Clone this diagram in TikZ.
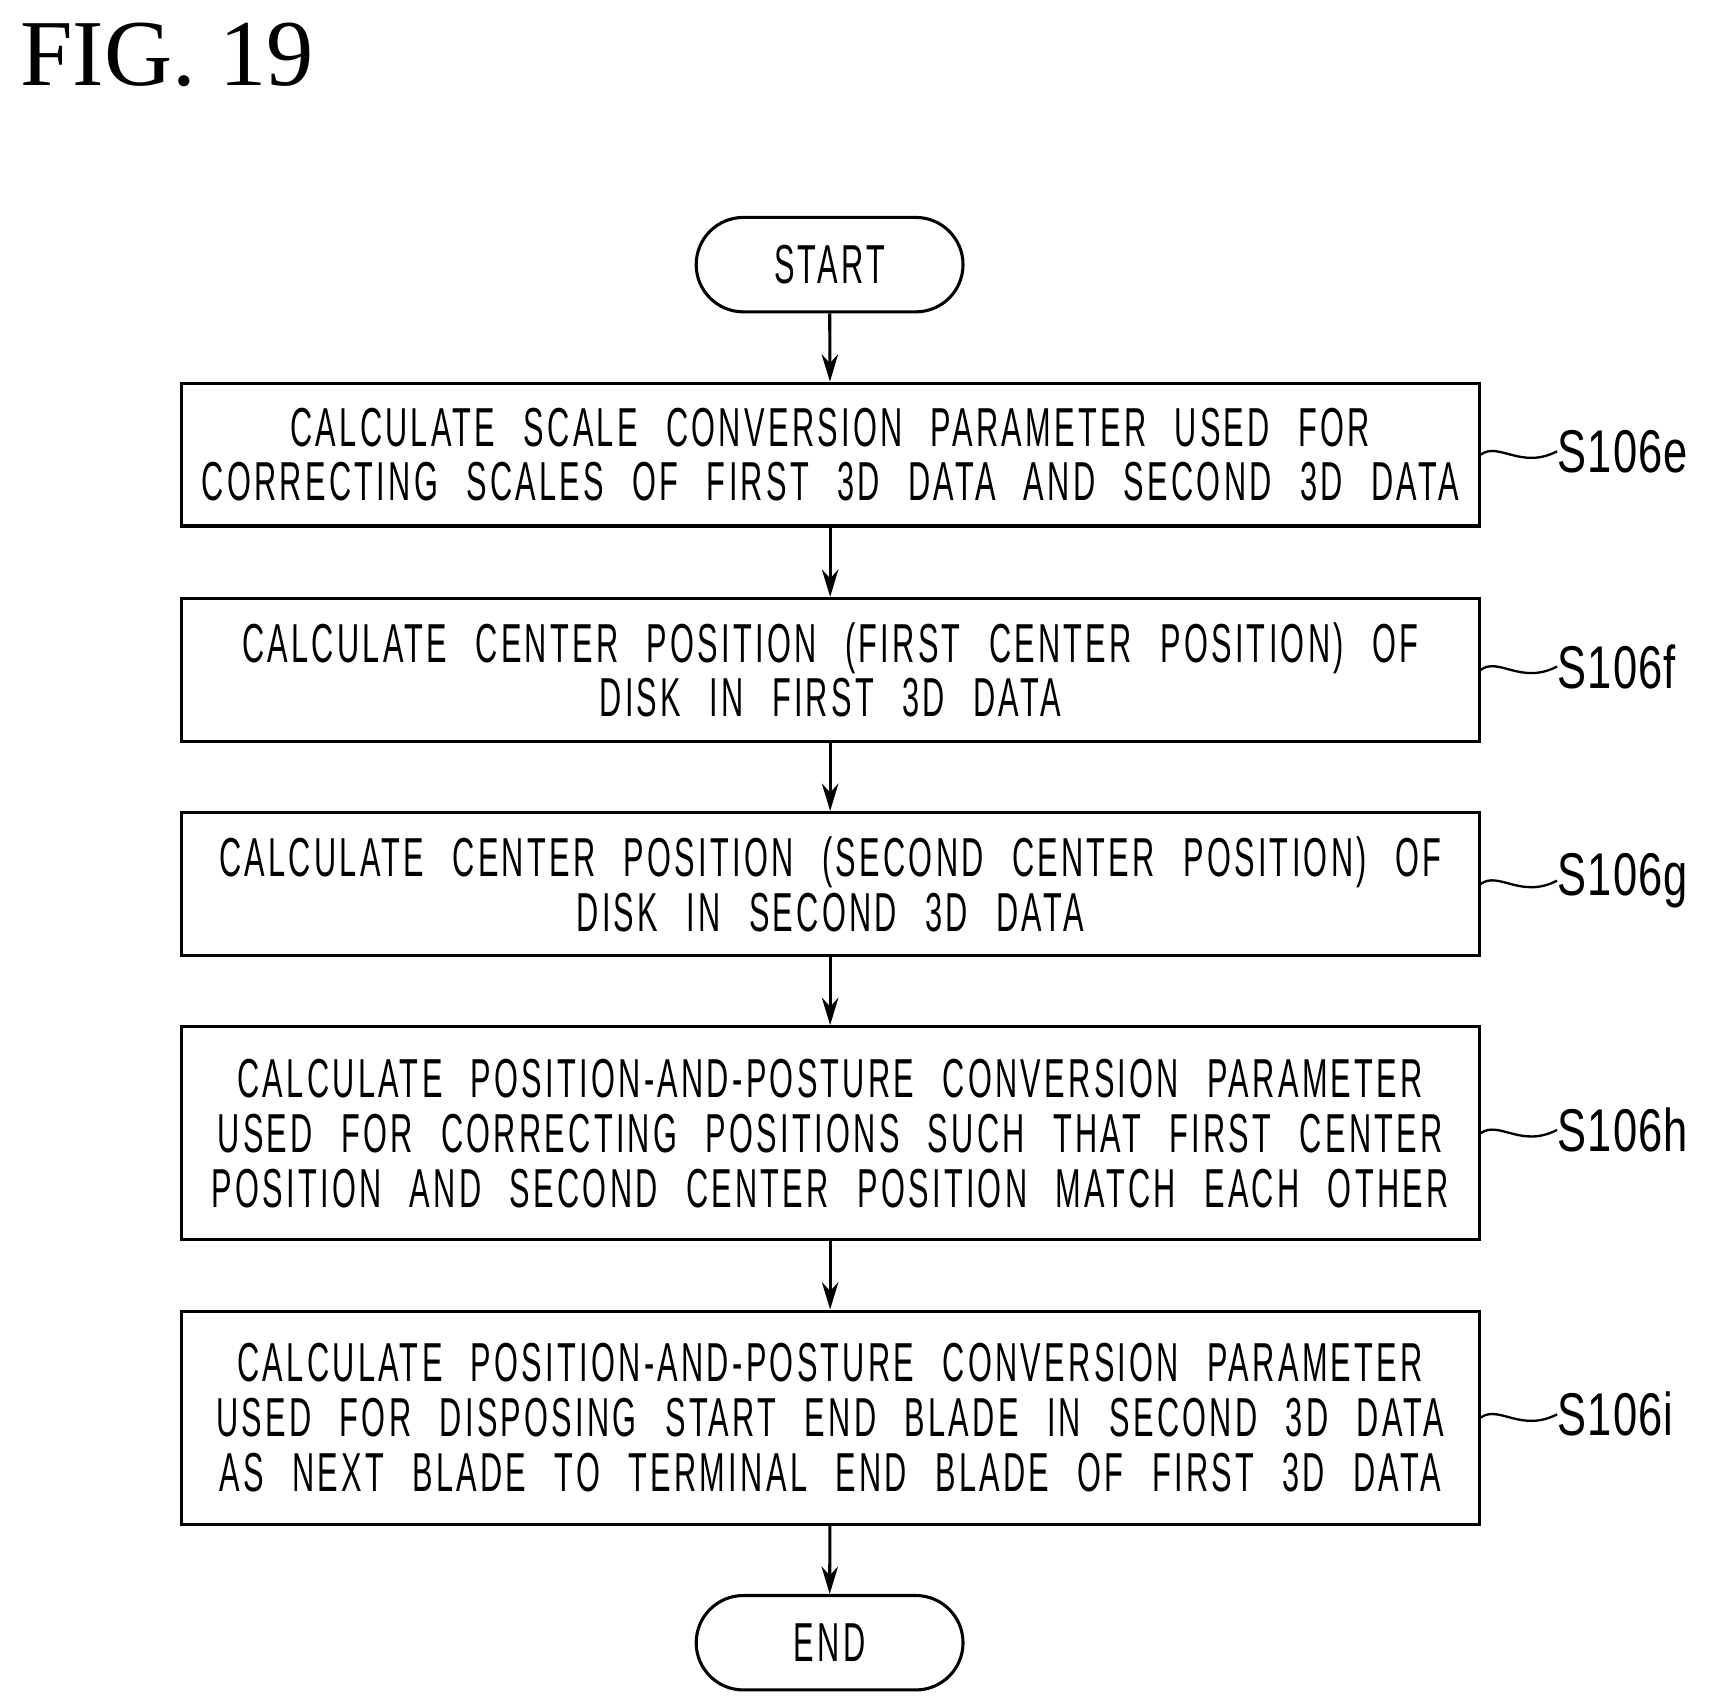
\documentclass[tikz,border=0pt]{standalone}
\usetikzlibrary{arrows.meta}
\usepackage{fontspec}
\setmainfont{Liberation Sans}
\newfontfamily\boxfont[FakeStretch=0.56,LetterSpace=6,WordSpace=2.4]{Liberation Sans}
\newfontfamily\labfont[FakeStretch=0.72,LetterSpace=2]{Liberation Sans}
\newfontfamily\figfont{Liberation Serif}
\begin{document}
\begin{tikzpicture}[x=0.02cm,y=-0.02cm,
  box/.style={draw,line width=1.6pt,minimum width=1182*0.02cm,align=center,
    font=\boxfont\fontsize{1cm}{1cm}\selectfont,inner sep=0pt},
  term/.style={draw,line width=1.6pt,rounded corners=0.86cm,minimum width=243*0.02cm,
    minimum height=86*0.02cm,font=\boxfont\fontsize{1cm}{1cm}\selectfont},
  arr/.style={line width=1.6pt,-{Stealth[length=0.5cm,width=0.3cm]}},
  lab/.style={anchor=west,font=\labfont\fontsize{1.1cm}{1.1cm}\selectfont,inner sep=0pt},
  tl/.style={line width=1.2pt}]
\useasboundingbox (0,0) rectangle (1560,1552);
\node[anchor=base west,inner sep=0pt,font=\figfont\fontsize{1.72cm}{1.72cm}\selectfont] (fig) at (18,78) {FIG. 19};
\node[term] (start) at (755.5,241) {START};
\node[box,minimum height=130*0.02cm] (b1) at (756,414) {CALCULATE SCALE CONVERSION PARAMETER USED FOR\\CORRECTING SCALES OF FIRST 3D DATA AND SECOND 3D DATA};
\node[box,minimum height=130*0.02cm] (b2) at (756,610) {CALCULATE CENTER POSITION (FIRST CENTER POSITION) OF\\DISK IN FIRST 3D DATA};
\node[box,minimum height=130*0.02cm] (b3) at (756,805) {CALCULATE CENTER POSITION (SECOND CENTER POSITION) OF\\DISK IN SECOND 3D DATA};
\node[box,minimum height=194*0.02cm] (b4) at (756,1032) {CALCULATE POSITION-AND-POSTURE CONVERSION PARAMETER\\USED FOR CORRECTING POSITIONS SUCH THAT FIRST CENTER\\POSITION AND SECOND CENTER POSITION MATCH EACH OTHER};
\node[box,minimum height=194*0.02cm] (b5) at (756,1291) {CALCULATE POSITION-AND-POSTURE CONVERSION PARAMETER\\USED FOR DISPOSING START END BLADE IN SECOND 3D DATA\\AS NEXT BLADE TO TERMINAL END BLADE OF FIRST 3D DATA};
\node[term] (end) at (755.5,1496) {END};
\draw[arr] (start) -- (b1);
\draw[arr] (b1) -- (b2);
\draw[arr] (b2) -- (b3);
\draw[arr] (b3) -- (b4);
\draw[arr] (b4) -- (b5);
\draw[arr] (b5) -- (end);
\foreach \b/\t/\y in {b1/S106e/414,b2/S106f/610,b3/S106g/805,b4/S106h/1032,b5/S106i/1291}{
  \node[lab] (l\b) at (1418,\y-3) {\t};
  \draw[tl] (\b.east) .. controls (1365,\y-12) and (1385,\y+14) .. (l\b.west);
}
\end{tikzpicture}
\end{document}
